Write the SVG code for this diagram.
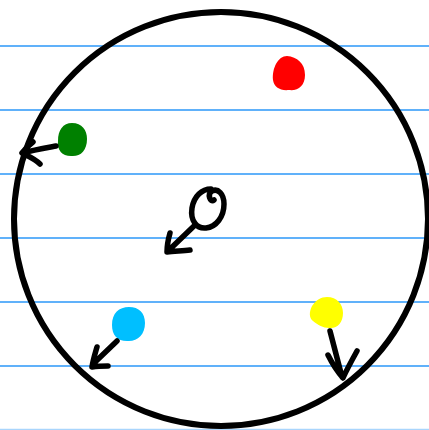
<svg xmlns="http://www.w3.org/2000/svg" width="429" height="430" viewBox="0 0 429 430">
<style>
.rule{stroke:#2b97f8;stroke-width:1.3}
.ink{fill:none;stroke:#000;stroke-width:5.5;stroke-linecap:round;stroke-linejoin:round}
</style>
<rect width="429" height="430" fill="#fff"/>
<g id="ruled-lines">
<line class="rule" x1="0" y1="46" x2="429" y2="46"/>
<line class="rule" x1="0" y1="110" x2="429" y2="110"/>
<line class="rule" x1="0" y1="174" x2="429" y2="174"/>
<line class="rule" x1="0" y1="238" x2="429" y2="238"/>
<line class="rule" x1="0" y1="302" x2="429" y2="302"/>
<line class="rule" x1="0" y1="366" x2="429" y2="366"/>
<line class="rule" x1="0" y1="429.5" x2="429" y2="429.5" opacity="0.4"/>
</g>
<g id="boundary">
<circle cx="221" cy="219" r="207" fill="none" stroke="#000" stroke-width="6"/>
</g>
<g id="red">
<path d="M287 56 C297 57 305 63 305 75 C305 86 298 91 289 90 C280 91 274 87 273 80 C272 68 278 56 287 56 Z" fill="#ff0000"/>
</g>
<g id="green">
<path d="M72 123 C82 123 87 130 87 139 C87 151 80 157 71 156 C62 156 57 150 58 141 C58 130 63 123 72 123 Z" fill="#008000"/>
</g>
<g id="center">
<path class="ink" d="M211 189 C202 189 194 196 192 208 C190 221 197 229 206 228 C216 227 224 217 224 204 C224 194 218 188 212 191 C207 194 210 203 214 200"/>
</g>
<g id="blue">
<path d="M129 307 C139 307 145 313 145 323 C145 335 137 342 127 341 C117 341 112 335 112 325 C112 313 119 307 129 307 Z" fill="#00bfff"/>
</g>
<g id="yellow">
<path d="M327 297 C337 297 343 304 343 313 C343 323 337 329 329 328 C323 328 318 325 313 321 C309 318 309 312 312 306 C316 300 321 297 327 297 Z" fill="#ffff00"/>
</g>
<g id="connectors">
<path class="ink" d="M56 146 C45 148 33 150 23 153 M33 142 C29 145 25 149 22 153 C28 156 35 159 40 164"/>
<path class="ink" d="M194 226 L168 251 M170 233 C168 240 167 246 167 252 C174 251 182 251 190 250"/>
<path class="ink" d="M117 341 L93 364 M97 347 C95 354 93 360 92 367 C98 366 103 366 108 366"/>
<path class="ink" d="M330 331 C334 346 338 362 342 377 M328 355 C332 363 337 371 343 378 C347 369 352 360 357 351"/>
</g>
</svg>
